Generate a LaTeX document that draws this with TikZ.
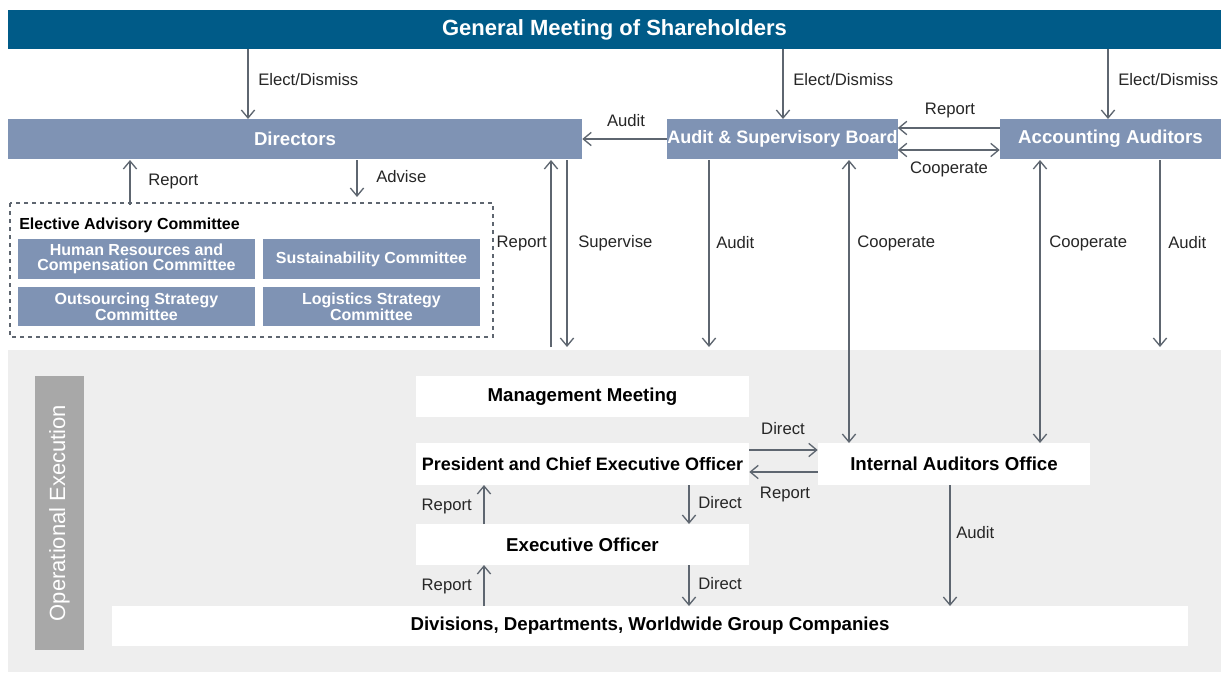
\documentclass[tikz,border=0pt]{standalone}
\usepackage{fontspec}
\setmainfont{Liberation Sans}
\usetikzlibrary{arrows.meta}
\definecolor{gmblue}{HTML}{005B88}
\definecolor{slate}{HTML}{7F93B4}
\definecolor{bggrey}{HTML}{EEEEEE}
\definecolor{opgrey}{HTML}{A8A8A8}
\definecolor{arr}{HTML}{5E6670}
\tikzset{
 box/.style={inner sep=0pt, font=\fontsize{14}{16}\selectfont\bfseries},
 slatebox/.style={box, fill=slate, text=white},
 whitebox/.style={box, fill=white, text=black},
 subbox/.style={inner sep=0pt, fill=slate, text=white, align=center, font=\fontsize{12}{11}\selectfont\bfseries},
 ar/.style={draw=arr, line width=1pt, -{Straight Barb[length=6pt,width=10pt]}},
 dar/.style={draw=arr, line width=1pt, {Straight Barb[length=6pt,width=10pt]}-{Straight Barb[length=6pt,width=10pt]}},
 lbl/.style={inner sep=0pt, font=\fontsize{12.5}{14}\selectfont, text=black!85}
}
\begin{document}
\begin{tikzpicture}[x=0.75pt,y=-0.75pt]
\useasboundingbox (0,0) rectangle (1229,682);
\fill[white] (0,0) rectangle (1229,682);
\fill[bggrey] (8,350) rectangle (1221,672);
% boxes
\node[box, fill=gmblue, text=white, minimum width=1213*0.75pt, minimum height=39*0.75pt, font=\fontsize{16.5}{18}\selectfont\bfseries] (gm) at (614.5,29.5) {General Meeting of Shareholders};
\node[slatebox, minimum width=574*0.75pt, minimum height=40*0.75pt] (dir) at (295,139) {Directors};
\node[slatebox, minimum width=221*0.75pt, minimum height=40*0.75pt, font=\fontsize{13.5}{16}\selectfont\bfseries] (asb) at (782.5,139) {Audit \& Supervisory Board};
\node[slatebox, minimum width=221*0.75pt, minimum height=40*0.75pt] (aa) at (1110.5,139) {Accounting Auditors};
% advisory
\draw[dashed, draw=arr, line width=0.8pt] (10,203) rectangle (493,337);
\node[anchor=west, inner sep=0pt, font=\fontsize{12}{14}\selectfont\bfseries] (eac) at (19,225) {Elective Advisory Committee};
\node[subbox, minimum width=237*0.75pt, minimum height=40*0.75pt] (hr) at (136.5,259) {Human Resources and\\Compensation Committee};
\node[subbox, minimum width=217*0.75pt, minimum height=40*0.75pt] (sc) at (371.5,259) {Sustainability Committee};
\node[subbox, minimum width=237*0.75pt, minimum height=39*0.75pt] (os) at (136.5,306.5) {Outsourcing Strategy\\Committee};
\node[subbox, minimum width=217*0.75pt, minimum height=39*0.75pt] (ls) at (371.5,306.5) {Logistics Strategy\\Committee};
% operational
\node[fill=opgrey, minimum width=49*0.75pt, minimum height=274*0.75pt, inner sep=0pt] (op) at (59.5,513) {};
\node[rotate=90, text=white, font=\fontsize{16.5}{18}\selectfont] (opt) at (59.5,513) {Operational Execution};
\node[whitebox, minimum width=333*0.75pt, minimum height=41*0.75pt] (mm) at (582.5,396.5) {Management Meeting};
\node[whitebox, minimum width=333*0.75pt, minimum height=42*0.75pt, font=\fontsize{13.5}{16}\selectfont\bfseries] (pres) at (582.5,464) {President and Chief Executive Officer};
\node[whitebox, minimum width=272*0.75pt, minimum height=42*0.75pt] (iao) at (954,464) {Internal Auditors Office};
\node[whitebox, minimum width=333*0.75pt, minimum height=41*0.75pt] (eo) at (582.5,544.5) {Executive Officer};
\node[whitebox, minimum width=1076*0.75pt, minimum height=40*0.75pt] (div) at (650,626) {Divisions, Departments, Worldwide Group Companies};
% coordinates
\coordinate (e1) at (248,49); \coordinate (e2) at (783,49); \coordinate (e3) at (1108,49);
\coordinate (rp1) at (130,205); \coordinate (ad1) at (357,197);
\coordinate (rs) at (551,347); \coordinate (sv) at (567,347);
\coordinate (au1) at (709,347); \coordinate (au2) at (1160,347);
% arrows
\draw[ar] (e1) -- (248,119); \node[lbl, anchor=west] at (258,80) {Elect/Dismiss};
\draw[ar] (e2) -- (783,119); \node[lbl, anchor=west] at (793,80) {Elect/Dismiss};
\draw[ar] (e3) -- (1108,119); \node[lbl, anchor=west] at (1118,80) {Elect/Dismiss};
\draw[ar] (asb.west) -- (dir.east); \node[lbl] at (626,121) {Audit};
\draw[ar] (aa.west|-0,128) -- (asb.east|-0,128); \node[lbl] at (950,110) {Report};
\draw[dar] (asb.east|-0,150) -- (aa.west|-0,150); \node[lbl] at (949,169) {Cooperate};
\draw[ar] (rp1) -- (130,160); \node[lbl, anchor=west] at (148,181) {Report};
\draw[ar] (357,160) -- (ad1); \node[lbl, anchor=west] at (376,177) {Advise};
\draw[ar] (rs) -- (551,160); \node[lbl, anchor=east] at (547,243) {Report};
\draw[ar] (567,160) -- (sv); \node[lbl, anchor=west] at (578,243) {Supervise};
\draw[ar] (709,160) -- (au1); \node[lbl, anchor=west] at (716,243) {Audit};
\draw[dar] (849,160) -- (849,443); \node[lbl, anchor=west] at (857,243) {Cooperate};
\draw[dar] (1040,160) -- (1040,443); \node[lbl, anchor=west] at (1049,243) {Cooperate};
\draw[ar] (1160,160) -- (au2); \node[lbl, anchor=west] at (1168,243) {Audit};
\draw[ar] (pres.east|-0,450) -- (iao.west|-0,450); \node[lbl] at (783,429) {Direct};
\draw[ar] (iao.west|-0,472) -- (pres.east|-0,472); \node[lbl] at (785,494) {Report};
\draw[ar] (484,524) -- (484,485); \node[lbl, anchor=east] at (472,506) {Report};
\draw[ar] (689,485) -- (689,524); \node[lbl, anchor=west] at (698,503) {Direct};
\draw[ar] (484,606) -- (484,565); \node[lbl, anchor=east] at (472,586) {Report};
\draw[ar] (689,565) -- (689,606); \node[lbl, anchor=west] at (698,584) {Direct};
\draw[ar] (950,485) -- (950,606); \node[lbl, anchor=west] at (956,533) {Audit};
\end{tikzpicture}
\end{document}
